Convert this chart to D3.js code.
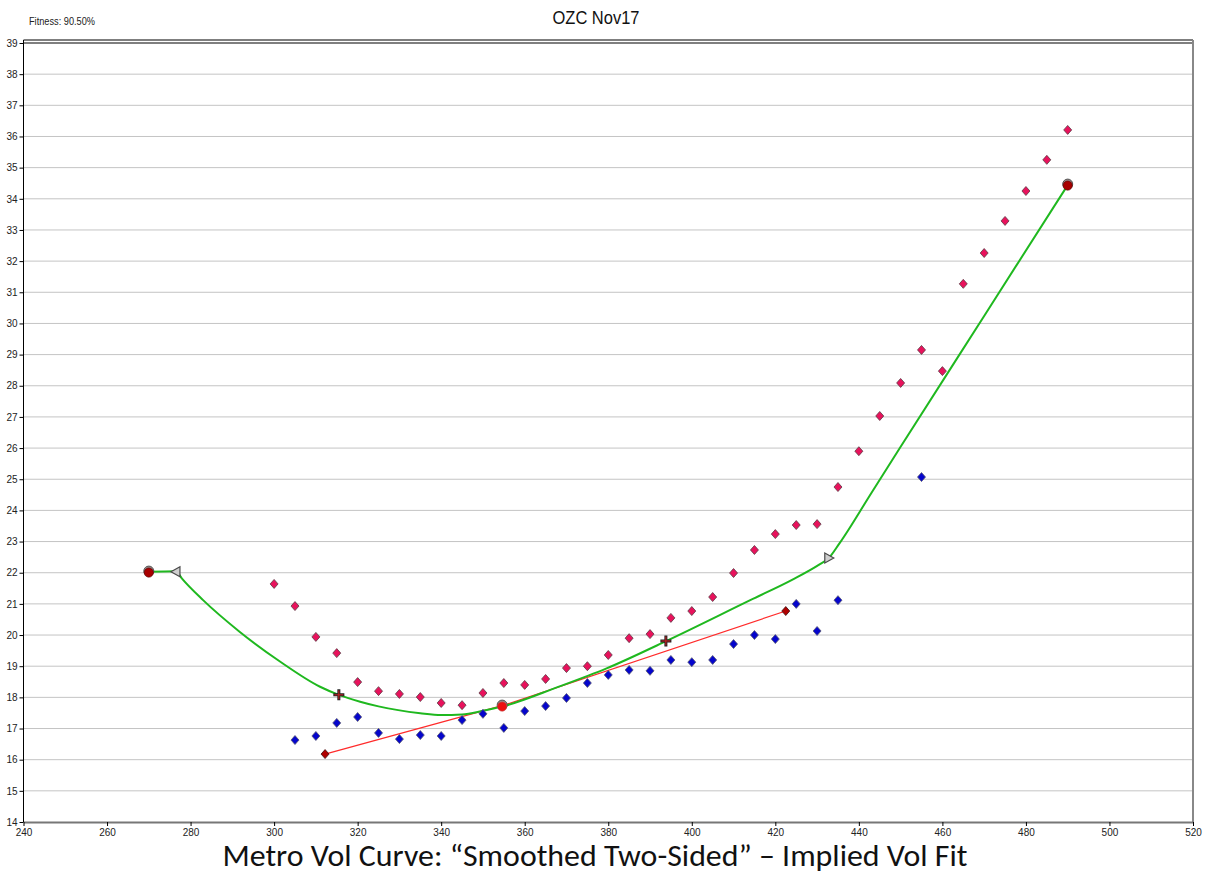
<!DOCTYPE html>
<html>
<head>
<meta charset="utf-8">
<script src="https://cdn.jsdelivr.net/npm/d3@7"></script>
<style>
  body { margin: 0; background: #fff; }
  svg { display: block; }
</style>
</head>
<body>
<div id="vol_chart"></div>
<script>
// Data ------------------------------------------------------------
var askStrikes = [300, 305, 310, 315, 320, 325, 330, 335, 340, 345, 350, 355, 360, 365, 370, 375, 380, 385, 390, 395,
    400, 405, 410, 415, 420, 425, 430, 435, 440, 445, 450, 455, 460, 465, 470, 475, 480, 485, 490];
var askVols = [21.64, 20.93, 19.94, 19.42, 18.49, 18.2, 18.11, 18.01, 17.82, 17.75, 18.14, 18.46, 18.4, 18.59, 18.94, 19.0, 19.36, 19.9, 20.03, 20.55,
    20.77, 21.22, 21.99, 22.73, 23.24, 23.53, 23.56, 24.75, 25.9, 27.03, 28.09, 29.15, 28.47, 31.27, 32.26, 33.29, 34.25, 35.25, 36.21];

var bidStrikes = [305, 310, 315, 320, 325, 330, 335, 340, 345, 350, 355, 360, 365, 370, 375, 380, 385, 390, 395,
    400, 405, 410, 415, 420, 425, 430, 435, 455];
var bidVols = [16.63, 16.76, 17.18, 17.37, 16.86, 16.66, 16.79, 16.76, 17.27, 17.47, 17.02, 17.56, 17.72, 17.98, 18.46, 18.72, 18.88, 18.85, 19.2,
    19.13, 19.2, 19.71, 20.0, 19.87, 21.0, 20.13, 21.12, 25.07];

// smoothed fit curve (green)
var fitStrikes = [270, 276.5, 277.9, 283, 291.8, 301.4, 311, 315.5, 320.6, 325, 335, 340, 345, 350, 355, 367.7, 379.6, 393.6,
    414, 424, 430.4, 432.8, 435.4, 443, 450, 470, 490];
var fitVols = [22.03, 22.05, 21.82, 21.12, 20.1, 19.15, 18.34, 18.08, 17.86, 17.71, 17.49, 17.43, 17.45, 17.57, 17.72, 18.32, 18.93, 19.79,
    21.12, 21.77, 22.25, 22.47, 22.95, 24.56, 26.04, 30.24, 34.44];

// linear fit (red) and its end diamonds
var linStrikes = [312.2, 355, 422.5];
var linVols = [16.18, 17.75, 20.77];

var anchorStrikes = [270, 354.6, 490];     // red circles
var anchorVols = [22.02, 17.72, 34.44];
var triStrikes = [276.5, 432.8];           // grey triangles
var triVols = [22.03, 22.47];
var triDir = ["left", "right"];
var crossStrikes = [315.5, 393.8];         // plus markers
var crossVols = [18.08, 19.81];

var xTicks = [240, 260, 280, 300, 320, 340, 360, 380, 400, 420, 440, 460, 480, 500, 520];
var yTicks = [14, 15, 16, 17, 18, 19, 20, 21, 22, 23, 24, 25, 26, 27, 28, 29, 30, 31, 32, 33, 34, 35, 36, 37, 38, 39];

var chartTitle = "OZC Nov17";
var fitnessText = "Fitness: 90.50%";
var captionText = "Metro Vol Curve: \u201cSmoothed Two-Sided\u201d \u2013 Implied Vol Fit";

// Layout ------------------------------------------------------------
var W = 1208, H = 874;
var plot = { left: 23.5, right: 1193, top: 43, bottom: 822 };
var narrow = "'Liberation Sans Narrow', 'Arial Narrow', 'Liberation Sans', Arial, sans-serif";

var svg = d3.select("#vol_chart")
    .append("svg")
    .attr("width", W)
    .attr("height", H);

var x = d3.scaleLinear().domain([240, 520]).range([plot.left, plot.right]);
var y = d3.scaleLinear().domain([14, 39]).range([plot.bottom, plot.top]);

// gridlines
svg.append("g")
    .selectAll("line")
    .data(yTicks.slice(1, -1))
    .enter().append("line")
    .attr("x1", plot.left).attr("x2", plot.right)
    .attr("y1", function (d) { return y(d); })
    .attr("y2", function (d) { return y(d); })
    .attr("stroke", "#c4c4c4")
    .attr("stroke-width", 1);

// frame: double black top, grey right
svg.append("line")
    .attr("x1", plot.left).attr("x2", plot.right)
    .attr("y1", plot.top - 3).attr("y2", plot.top - 3)
    .attr("stroke", "#000").attr("stroke-width", 1.2);
svg.append("line")
    .attr("x1", plot.left).attr("x2", plot.right)
    .attr("y1", y(39)).attr("y2", y(39))
    .attr("stroke", "#000").attr("stroke-width", 1.2);
svg.append("line")
    .attr("x1", plot.right).attr("x2", plot.right)
    .attr("y1", plot.top - 3).attr("y2", plot.bottom)
    .attr("stroke", "#888").attr("stroke-width", 2);

// Axes --------------------------------------------------------------
var yAxis = svg.append("g")
    .attr("transform", "translate(" + plot.left + ",0)")
    .call(d3.axisLeft(y).tickValues(yTicks).tickSize(4).tickSizeOuter(0).tickPadding(2));
yAxis.select(".domain").attr("stroke", "#000").attr("d", "M0," + (plot.top - 3) + "V" + plot.bottom);
yAxis.selectAll("text").style("font-family", narrow).style("font-size", "10px").attr("fill", "#222");

var xAxis = svg.append("g")
    .attr("transform", "translate(0," + plot.bottom + ")")
    .call(d3.axisBottom(x).tickValues(xTicks).tickSize(4).tickSizeOuter(0).tickPadding(3));
xAxis.select(".domain").attr("stroke", "#777").attr("stroke-width", 2);
xAxis.selectAll("text").style("font-family", narrow).style("font-size", "10px").attr("fill", "#222");

// Lines -------------------------------------------------------------
var lineGen = d3.line()
    .x(function (d) { return x(d[0]); })
    .y(function (d) { return y(d[1]); });

svg.append("path")
    .datum(d3.zip(linStrikes, linVols))
    .attr("d", lineGen)
    .attr("fill", "none")
    .attr("stroke", "#ff2b2b")
    .attr("stroke-width", 1.2);

svg.append("path")
    .datum(d3.zip(fitStrikes, fitVols))
    .attr("d", lineGen.curve(d3.curveMonotoneX))
    .attr("fill", "none")
    .attr("stroke", "#1fb81f")
    .attr("stroke-width", 2);

// Markers -----------------------------------------------------------
function diamond(cx, cy) {
    return "M" + cx + "," + (cy - 4.5) + "L" + (cx + 4) + "," + cy + "L" + cx + "," + (cy + 4.5) + "L" + (cx - 4) + "," + cy + "Z";
}

function drawDiamonds(xs, ys, fill, stroke) {
    svg.append("g")
        .selectAll("path")
        .data(d3.zip(xs, ys))
        .enter().append("path")
        .attr("d", function (d) { return diamond(x(d[0]), y(d[1])); })
        .attr("fill", fill)
        .attr("stroke", stroke)
        .attr("stroke-width", 0.8);
}

drawDiamonds(askStrikes, askVols, "#e8125c", "#5a3a44");
drawDiamonds(bidStrikes, bidVols, "#0505cc", "#555570");
drawDiamonds([linStrikes[0], linStrikes[2]], [linVols[0], linVols[2]], "#b00000", "#3a1010");

// red anchor circles with grey highlight
var anchors = svg.append("g")
    .selectAll("g")
    .data(d3.zip(anchorStrikes, anchorVols))
    .enter().append("g");
anchors.append("circle")
    .attr("cx", function (d) { return x(d[0]); })
    .attr("cy", function (d) { return y(d[1]) - 1; })
    .attr("r", 5)
    .attr("fill", "#9a8a8a")
    .attr("stroke", "#555");
anchors.append("circle")
    .attr("cx", function (d) { return x(d[0]); })
    .attr("cy", function (d) { return y(d[1]) + 0.5; })
    .attr("r", 4.6)
    .attr("fill", function (d, i) { return i == 1 ? "#ee1010" : "#a80000"; })
    .attr("stroke", function (d, i) { return i == 1 ? "#c04040" : "#500"; })
    .attr("stroke-width", 0.6);

// grey triangles marking wing cutoffs
svg.append("g")
    .selectAll("path")
    .data(d3.zip(triStrikes, triVols, triDir))
    .enter().append("path")
    .attr("d", function (d) {
        var cx = x(d[0]), cy = y(d[1]);
        if (d[2] == "left") {
            return "M" + (cx - 5) + "," + cy + "L" + (cx + 4) + "," + (cy - 5) + "L" + (cx + 4) + "," + (cy + 5) + "Z";
        }
        return "M" + (cx + 5) + "," + cy + "L" + (cx - 4) + "," + (cy - 5) + "L" + (cx - 4) + "," + (cy + 5) + "Z";
    })
    .attr("fill", "#cfcfcf")
    .attr("stroke", "#4a4a4a")
    .attr("stroke-width", 1.2);

// plus markers
var crosses = svg.append("g")
    .selectAll("g")
    .data(d3.zip(crossStrikes, crossVols))
    .enter().append("g")
    .attr("transform", function (d) { return "translate(" + x(d[0]) + "," + y(d[1]) + ")"; });
crosses.append("path")
    .attr("d", "M-5.5,0H5.5M0,-5.5V5.5")
    .attr("stroke", "#222")
    .attr("stroke-width", 3);
crosses.append("path")
    .attr("d", "M-4.5,0H4.5M0,-4.5V4.5")
    .attr("stroke", "#d02020")
    .attr("stroke-width", 1);

// Texts -------------------------------------------------------------
svg.append("text")
    .attr("x", 596)
    .attr("y", 24)
    .attr("text-anchor", "middle")
    .style("font-family", narrow)
    .style("font-size", "19px")
    .attr("fill", "#111")
    .attr("textLength", 87)
    .attr("lengthAdjust", "spacingAndGlyphs")
    .text(chartTitle);

svg.append("text")
    .attr("x", 29)
    .attr("y", 25)
    .style("font-family", narrow)
    .style("font-size", "10.5px")
    .attr("fill", "#222")
    .attr("textLength", 66)
    .attr("lengthAdjust", "spacingAndGlyphs")
    .text(fitnessText);

svg.append("text")
    .attr("x", 595)
    .attr("y", 866)
    .attr("text-anchor", "middle")
    .style("font-family", "Carlito, Calibri, Lato, 'Open Sans', sans-serif")
    .style("font-size", "30px")
    .attr("fill", "#111")
    .attr("textLength", 745)
    .attr("lengthAdjust", "spacingAndGlyphs")
    .text(captionText);
</script>
</body>
</html>
